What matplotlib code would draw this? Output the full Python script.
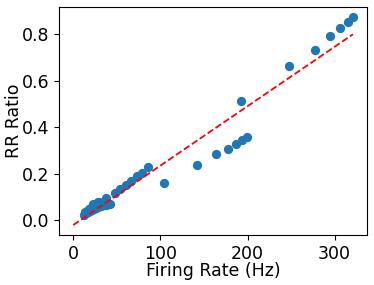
import matplotlib
matplotlib.use('Agg')
import matplotlib.pyplot as plt
import numpy as np

# firing rate (Hz) and RR ratio
firing_rate = [12, 13, 14, 15, 16, 17, 18, 19, 20, 21, 22, 23, 24, 25, 26, 28, 28, 30,
               30, 32, 34, 36, 38, 40, 42,
               28.7, 37.5, 47.8, 54.0, 60.1, 66.2, 72.7, 79.2, 85.7, 104.0,
               142.3, 164.0, 177.5, 187.0, 193.9, 198.9, 192.8,
               247.1, 276.9, 294.5, 306.7, 315.1, 321.2]
rr_ratio = [0.022, 0.030, 0.035, 0.028, 0.040, 0.033, 0.045, 0.038, 0.050, 0.042, 0.055, 0.068,
            0.048, 0.060, 0.052, 0.065, 0.056, 0.060, 0.079, 0.062, 0.063, 0.065, 0.066, 0.067,
            0.069,
            0.079, 0.096, 0.118, 0.134, 0.151, 0.168, 0.188, 0.204, 0.228, 0.159,
            0.238, 0.282, 0.307, 0.329, 0.346, 0.358, 0.512,
            0.664, 0.734, 0.793, 0.828, 0.852, 0.876]

# fitted line endpoints
fit_x = [0, 321]
fit_y = [-0.022, 0.80]

fig = plt.figure(figsize=(3.74, 2.85), dpi=100)
ax = fig.add_axes([0.1586, 0.1754, 0.8214, 0.8011])
ax.scatter(firing_rate, rr_ratio, s=32, color='#1f77b4', zorder=2)
ax.plot(fit_x, fit_y, 'r--', linewidth=1.3, zorder=3)
ax.set_xlim(-16, 336.6)
ax.set_ylim(-0.065, 0.919)
ax.set_xticks([0, 100, 200, 300])
ax.set_yticks([0.0, 0.2, 0.4, 0.6, 0.8])
ax.tick_params(labelsize=12.5)
ax.set_xlabel('Firing Rate (Hz)', fontsize=12.5)
ax.set_ylabel('RR Ratio', fontsize=12.5)
ax.yaxis.set_label_coords(-0.118, 0.5)
ax.xaxis.set_label_coords(0.5, -0.118)
fig.savefig('out.png', dpi=100)
